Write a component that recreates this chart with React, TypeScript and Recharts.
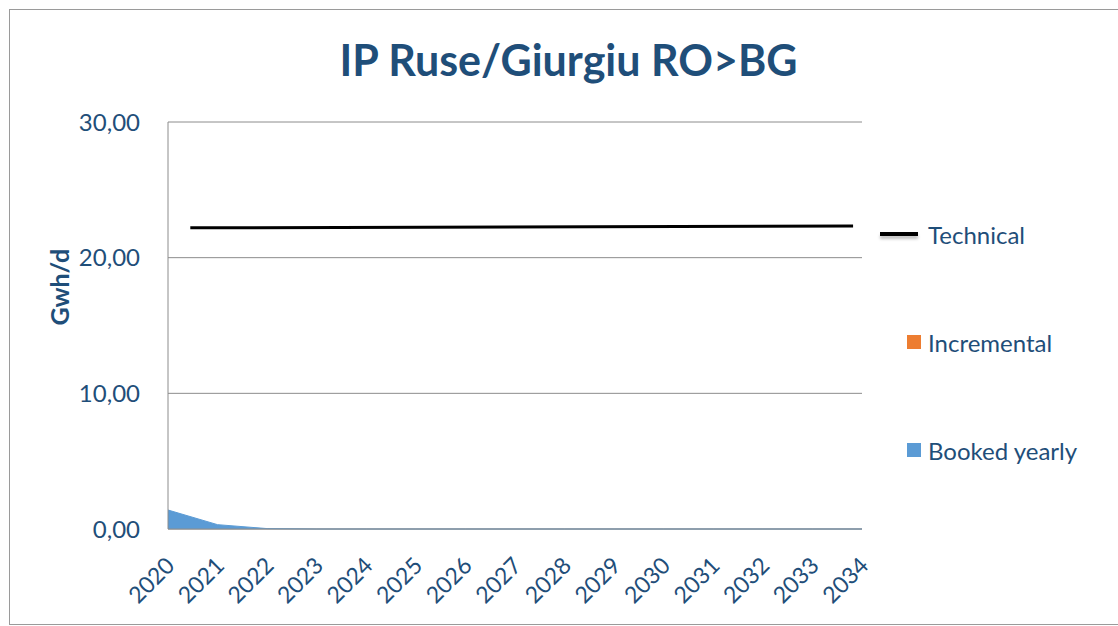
import {
  ComposedChart,
  Area,
  Line,
  XAxis,
  YAxis,
  CartesianGrid,
} from 'recharts';

const years = [2020, 2021, 2022, 2023, 2024, 2025, 2026, 2027, 2028, 2029, 2030, 2031, 2032, 2033, 2034];
const bookedYearly = [1.4, 0.32, 0.03, 0, 0, 0, 0, 0, 0, 0, 0, 0, 0, 0, 0];
const incremental = [0, 0, 0, 0, 0, 0, 0, 0, 0, 0, 0, 0, 0, 0, 0];
// technical capacity line (start / end)
const technicalYears = [2020.45, 2033.82];
const technicalValues = [22.2, 22.33];
const yTicks = [0, 10, 20, 30];

const data = years.map((y, i) => ({ year: y, booked: bookedYearly[i], incremental: incremental[i] }));
const techData = technicalYears.map((y, i) => ({ year: y, technical: technicalValues[i] }));

const BLUE_TEXT = '#1F4E79';
const FONT = 'Lato, "Open Sans", sans-serif';

const YearTick = ({ x, y, payload }: any) => (
  <g transform={`translate(${x + 8},${y + 30}) rotate(-45)`}>
    <text x={0} y={0} textAnchor="end" fill={BLUE_TEXT} fontSize={23} fontFamily={FONT}>
      {payload.value}
    </text>
  </g>
);

const LegendBox = () => (
  <div style={{ fontFamily: FONT, fontSize: 24, color: BLUE_TEXT }}>
    <div style={{ display: 'flex', alignItems: 'center', height: 30 }}>
      <div
        style={{
          width: 38,
          height: 4,
          background: '#000',
          boxShadow: '0 3px 3px rgba(0,0,0,0.25)',
          marginRight: 10,
        }}
      />
      <span>Technical</span>
    </div>
    <div style={{ display: 'flex', alignItems: 'center', height: 30, marginTop: 78, paddingLeft: 27 }}>
      <div style={{ width: 14, height: 14, background: '#ED7D31', marginRight: 7 }} />
      <span>Incremental</span>
    </div>
    <div style={{ display: 'flex', alignItems: 'center', height: 30, marginTop: 78, paddingLeft: 27 }}>
      <div style={{ width: 14, height: 14, background: '#5B9BD5', marginRight: 7 }} />
      <span>Booked yearly</span>
    </div>
  </div>
);

export default function App() {
  return (
    <div style={{ position: 'absolute', left: 0, top: 0, width: 1118, height: 626, background: '#fff', overflow: 'hidden' }}>
      <div
        style={{
          position: 'absolute',
          left: 9,
          top: 9,
          width: 1130,
          height: 614,
          border: '1.5px solid #9a9a9a',
          background: '#fff',
        }}
      />
      <div
        style={{
          position: 'absolute',
          left: 0,
          top: 34,
          width: 1137,
          textAlign: 'center',
          fontFamily: FONT,
          fontWeight: 700,
          fontSize: 43,
          color: BLUE_TEXT,
          lineHeight: '52px',
        }}
      >
        IP Ruse/Giurgiu RO&gt;BG
      </div>
      <div style={{ position: 'absolute', left: 0, top: 0 }}>
        <ComposedChart
          width={1118}
          height={626}
          data={data}
          margin={{ top: 122, right: 256, bottom: 17, left: 78 }}
        >
          <CartesianGrid vertical={false} stroke="#8c8c8c" strokeWidth={1} />
          <XAxis
            dataKey="year"
            type="number"
            domain={[2020, 2034]}
            ticks={years}
            interval={0}
            tick={<YearTick />}
            tickLine={false}
            axisLine={{ stroke: '#8c8c8c' }}
            height={80}
          />
          <YAxis
            domain={[0, 30]}
            ticks={yTicks}
            width={90}
            tickLine={false}
            axisLine={{ stroke: '#8c8c8c' }}
            tickFormatter={(v: number) => v.toFixed(2).replace('.', ',')}
            tick={{ fill: BLUE_TEXT, fontSize: 24, fontFamily: FONT }}
            tickMargin={22}
            label={{
              value: 'Gwh/d',
              angle: -90,
              position: 'insideLeft',
              offset: -18,
              fill: BLUE_TEXT,
              fontSize: 25,
              fontWeight: 700,
              fontFamily: FONT,
            }}
          />
          <Area
            type="linear"
            dataKey="booked"
            stackId="a"
            stroke="#5B9BD5"
            fill="#5B9BD5"
            fillOpacity={1}
            name="Booked yearly"
            isAnimationActive={false}
          />
          <Area
            type="linear"
            dataKey="incremental"
            stackId="a"
            stroke="none"
            fill="#ED7D31"
            fillOpacity={1}
            name="Incremental"
            isAnimationActive={false}
          />
          <Line
            data={techData}
            dataKey="technical"
            type="linear"
            stroke="#000"
            strokeWidth={3}
            dot={false}
            name="Technical"
            isAnimationActive={false}
          />
        </ComposedChart>
      </div>
      <div style={{ position: 'absolute', left: 880, top: 219 }}>
        <LegendBox />
      </div>
    </div>
  );
}
